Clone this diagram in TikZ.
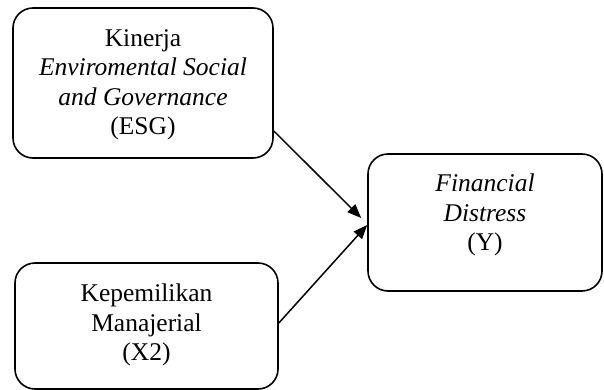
\documentclass[tikz,border=0pt]{standalone}
\usepackage{fontspec}
\setmainfont{Liberation Serif}
\usetikzlibrary{arrows.meta,calc}
\tikzset{
  varbox/.style={draw, line width=1.6pt, rounded corners=20pt, inner sep=0pt},
  lbl/.style={align=center, font=\fontsize{25.5}{29.5}\selectfont, inner sep=0pt},
  link/.style={line width=1.5pt, -{Triangle[length=14pt,width=11pt]}}
}
\begin{document}
\begin{tikzpicture}[x=1pt,y=-1pt]
\useasboundingbox (0,0) rectangle (604,390);
\node[varbox, minimum width=260pt, minimum height=150pt] (esg) at (143,83) {};
\node[lbl] (esgl) at (143,85) {Kinerja\\\textit{Enviromental Social}\\\textit{and Governance}\\(ESG)};
\node[varbox, minimum width=263pt, minimum height=126pt] (km) at (146.5,326) {};
\node[lbl] (kml) at (146.5,325) {Kepemilikan\\Manajerial\\(X2)};
\node[varbox, minimum width=234pt, minimum height=137pt] (fd) at (485,222.5) {};
\node[lbl] (fdl) at (485,215) {\textit{Financial}\\\textit{Distress}\\(Y)};
\draw[link] ($(esg.east)+(0,48)$) -- ($(fd.west)+(-6,-4.5)$);
\draw[link] ($(km.east)+(0,-3)$) -- ($(fd.west)+(0,2.5)$);
\end{tikzpicture}
\end{document}
